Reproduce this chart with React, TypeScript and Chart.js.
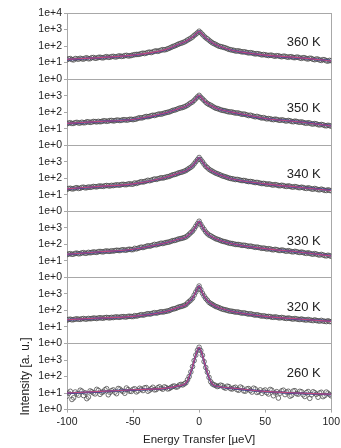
import { useEffect, useRef } from 'react';
import { Chart, registerables } from 'chart.js';

Chart.register(...registerables);

const FONT = "'Liberation Sans', Arial, sans-serif";

// Energy transfer grids (µeV) of the measured points (two interleaved sets)
const energies = [-100, -97.5, -95, -92.5, -90, -87.5, -85, -82.5, -80, -77.5, -75, -72.5, -70, -67.5, -65, -62.5, -60, -57.5, -55, -52.5, -50, -47.5, -45, -42.5, -40, -37.5, -35, -32.5, -30, -27.5, -25, -22.5, -20, -17.5, -15, -12.5, -10, -7.5, -5, -2.5, 0, 2.5, 5, 7.5, 10, 12.5, 15, 17.5, 20, 22.5, 25, 27.5, 30, 32.5, 35, 37.5, 40, 42.5, 45, 47.5, 50, 52.5, 55, 57.5, 60, 62.5, 65, 67.5, 70, 72.5, 75, 77.5, 80, 82.5, 85, 87.5, 90, 92.5, 95, 97.5, 100];
const energiesB = [-98.75, -96.25, -93.75, -91.25, -88.75, -86.25, -83.75, -81.25, -78.75, -76.25, -73.75, -71.25, -68.75, -66.25, -63.75, -61.25, -58.75, -56.25, -53.75, -51.25, -48.75, -46.25, -43.75, -41.25, -38.75, -36.25, -33.75, -31.25, -28.75, -26.25, -23.75, -21.25, -18.75, -16.25, -13.75, -11.25, -8.75, -6.25, -3.75, -1.25, 1.25, 3.75, 6.25, 8.75, 11.25, 13.75, 16.25, 18.75, 21.25, 23.75, 26.25, 28.75, 31.25, 33.75, 36.25, 38.75, 41.25, 43.75, 46.25, 48.75, 51.25, 53.75, 56.25, 58.75, 61.25, 63.75, 66.25, 68.75, 71.25, 73.75, 76.25, 78.75, 81.25, 83.75, 86.25, 88.75, 91.25, 93.75, 96.25, 98.75];
// Energies of the fitted curves
const fitEnergies = [-100, -75, -50, -25, -15, -10, -7.5, -5, -2.5, 0, 2.5, 5, 7.5, 10, 15, 25, 50, 75, 100];

const int360 = [15, 17.5, 14.5, 16.8, 18.2, 16.1, 19.5, 17.3, 20.4, 18.6, 21.2, 19.4, 22.8, 21.0, 23.9, 22.1, 25.3, 24.0, 27.5, 25.6, 28.9, 31.2, 32.0, 37.1, 37.5, 43.0, 44.1, 51.2, 52.0, 60.5, 62.0, 74, 93, 110, 138, 160, 198, 262, 352, 520, 790, 505, 318, 225, 158, 126, 98, 88, 77, 63, 57, 50.1, 51.0, 44.0, 43.8, 38.2, 38.5, 33.0, 33.9, 29.0, 29.5, 26.5, 27.8, 24.1, 25.9, 22.5, 24.0, 21.0, 22.6, 19.8, 21.0, 18.0, 19.5, 16.4, 17.8, 14.9, 16.0, 13.5, 14.8, 12.2, 13.0];
const int350 = [19.8, 22.9, 21.0, 24.1, 22.0, 22.8, 26.3, 24.0, 27.4, 25.5, 26.2, 30.1, 28.0, 31.2, 29.4, 33.0, 31.0, 34.9, 33.0, 36.8, 35.0, 38.5, 45.9, 46.5, 54.8, 55.6, 65.2, 67.8, 78.1, 81.0, 93.5, 103, 127, 142, 173, 192, 232, 312, 415, 660, 1040, 640, 402, 290, 228, 174, 153, 129, 119, 104, 101, 88.0, 87.1, 74.0, 72.9, 61.8, 60.4, 52.0, 51.5, 44.0, 42.8, 41.2, 36.5, 37.9, 33.1, 34.5, 30.0, 31.6, 27.4, 28.7, 25.1, 25.9, 22.0, 22.8, 19.6, 20.4, 17.5, 18.0, 15.4, 16.1, 14.0];
const int340 = [21.5, 24.8, 23.2, 27.0, 24.9, 28.8, 27.0, 28.1, 32.0, 30.0, 33.9, 32.1, 36.5, 34.0, 35.8, 40.2, 38.0, 43.0, 41.0, 46.1, 44.0, 48.5, 57.2, 58.9, 68.0, 70.5, 82.0, 85.0, 98.2, 102, 118, 130, 160, 178, 216, 244, 292, 400, 560, 1000, 1800, 990, 530, 350, 266, 205, 172, 139, 122, 103, 93, 83, 81.5, 72, 71, 62.5, 61.8, 54.5, 53.6, 47.5, 46.8, 45.5, 40.0, 41.5, 36.0, 37.8, 33.0, 34.5, 29.8, 31.5, 27.5, 28.8, 25.0, 26.4, 22.5, 24.1, 20.5, 22.0, 18.6, 19.9, 17.5];
const int330 = [24.0, 27.3, 25.6, 29.4, 27.5, 31.5, 29.5, 30.8, 34.9, 32.6, 37.2, 35.0, 39.8, 37.5, 39.2, 44.1, 41.9, 47.3, 44.8, 50.6, 48.0, 53.0, 62.8, 64.0, 75.1, 77.0, 90.0, 93.0, 108, 112, 129, 139, 167, 182, 216, 237, 280, 410, 630, 1250, 2500, 1110, 570, 365, 286, 220, 189, 155, 141, 120, 112, 99, 98, 86, 85.5, 75, 74.5, 65.5, 64.8, 57, 56.2, 54.6, 48.1, 49.9, 43.5, 45.6, 39.8, 41.5, 36.0, 37.9, 33.2, 34.4, 29.5, 30.9, 26.2, 27.6, 23.5, 24.7, 20.9, 22.0, 18.9];
const int320 = [26.0, 29.6, 27.9, 31.0, 28.9, 32.5, 30.2, 31.5, 34.8, 32.4, 36.3, 34.0, 37.9, 35.5, 36.9, 40.6, 38.4, 42.5, 40.3, 44.6, 42.5, 45.2, 52.3, 52.0, 59.8, 60.1, 68.9, 69.0, 78.5, 79.8, 89.5, 99, 122, 135, 165, 184, 223, 350, 545, 1300, 3000, 1110, 530, 310, 232, 175, 148, 121, 109, 94, 88.5, 79, 78, 69, 68, 60, 59.2, 52, 51.6, 45.5, 44.9, 43.7, 39.0, 40.5, 36.2, 37.8, 33.6, 35.0, 31.1, 32.6, 29.0, 30.5, 27.0, 28.6, 25.4, 26.9, 23.6, 25.1, 22.2, 23.7, 21.0];
const int260 = [6.5, 12.8, 5.2, 9.0, 14.9, 7.1, 4.6, 13.5, 10.2, 16.8, 8.4, 12.0, 18.5, 10.9, 15.6, 9.2, 17.4, 12.5, 20.2, 13.0, 16.9, 11.8, 19.5, 14.2, 21.6, 15.0, 22.4, 16.3, 24.0, 17.2, 21.5, 19.0, 25.5, 23.0, 30.5, 31.0, 42.0, 100, 400, 2000, 5900, 1950, 355, 89, 36, 29.0, 26.5, 28.0, 19.8, 24.6, 17.6, 22.5, 14.8, 20.3, 13.0, 18.7, 11.5, 17.6, 12.1, 9.6, 15.4, 8.8, 14.9, 10.1, 5.0, 13.6, 8.1, 12.9, 7.3, 14.0, 8.6, 11.9, 6.2, 12.4, 7.8, 10.6, 5.6, 11.2, 7.0, 9.9, 6.8];

const int360B = [16.9, 15.2, 17.6, 16.0, 17.0, 18.5, 17.0, 19.9, 18.2, 20.5, 19.6, 21.6, 20.8, 23.0, 22.0, 24.6, 23.5, 26.4, 25.2, 27.0, 30.2, 31.0, 34.8, 35.0, 41.0, 40.2, 48.5, 47.5, 56.8, 58.5, 68.5, 83, 100, 124, 148, 176, 232, 300, 438, 632, 645, 395, 272, 186, 140, 110, 93, 82, 70, 60, 55, 50.5, 47.2, 45.0, 40.5, 39.8, 35.6, 35.0, 31.5, 30.8, 27.9, 28.0, 25.5, 26.2, 23.6, 24.4, 21.8, 22.5, 20.2, 21.4, 18.8, 19.8, 17.2, 18.4, 15.6, 16.6, 14.2, 15.2, 12.8, 13.6];
const int350B = [22.0, 20.6, 23.2, 21.9, 24.6, 23.1, 25.6, 24.9, 26.9, 27.8, 27.2, 29.7, 28.8, 31.5, 30.3, 32.8, 32.2, 34.6, 33.8, 36.9, 37.2, 43.0, 44.3, 51.6, 52.8, 61.2, 62.5, 73.2, 74.8, 88.0, 98.5, 114, 133, 158, 181, 210, 263, 368, 518, 840, 805, 512, 334, 262, 198, 165, 139, 125, 110, 103, 94, 89, 79.8, 77.5, 67.0, 65.8, 56.2, 55.8, 47.5, 46.9, 39.0, 39.6, 35.0, 36.2, 32.0, 32.8, 29.0, 30.1, 26.2, 27.3, 24.5, 23.9, 21.3, 22.0, 19.0, 19.7, 16.9, 17.3, 14.9, 15.3];
const int340B = [23.9, 22.7, 25.8, 24.1, 27.9, 26.2, 29.6, 29.3, 31.0, 32.9, 32.8, 35.1, 34.9, 37.3, 37.9, 39.0, 41.9, 40.8, 44.9, 43.6, 52.0, 52.6, 62.3, 63.0, 75.5, 76.0, 91.0, 92.8, 108, 110, 124, 146, 168, 198, 229, 268, 346, 462, 750, 1330, 1340, 710, 440, 300, 232, 188, 155, 131, 112, 97, 89, 85.5, 75.5, 73.8, 65.2, 64.0, 57.5, 56.3, 50.0, 49.1, 43.0, 43.8, 38.7, 39.6, 35.0, 35.9, 32.0, 32.8, 29.0, 30.1, 26.8, 27.4, 24.2, 25.0, 21.8, 22.4, 20.0, 20.3, 18.1, 18.6];
const int330B = [26.3, 25.0, 28.5, 26.8, 30.6, 28.7, 32.8, 32.2, 33.5, 36.2, 35.8, 38.5, 38.0, 41.0, 41.8, 42.8, 46.0, 44.5, 49.2, 47.6, 57.5, 57.8, 68.2, 69.0, 82.5, 83.2, 99.5, 101, 118, 121, 134, 154, 172, 201, 225, 258, 334, 512, 870, 1770, 1630, 802, 448, 328, 251, 203, 171, 148, 130, 115, 106, 98, 92.5, 89.2, 80.5, 79.0, 70.5, 69.0, 61.5, 60.2, 52.0, 53.2, 46.5, 47.8, 42.2, 43.5, 38.2, 39.1, 35.0, 35.9, 32.0, 32.1, 28.5, 28.6, 25.3, 25.9, 22.5, 22.9, 20.0, 20.6];
const int320B = [28.6, 27.0, 30.0, 29.3, 31.2, 30.0, 33.0, 32.1, 33.9, 35.1, 34.6, 36.9, 36.2, 38.4, 39.5, 39.0, 41.8, 40.5, 43.8, 42.9, 48.8, 48.2, 55.6, 55.0, 64.1, 63.0, 73.5, 72.9, 84.0, 84.5, 92.5, 111, 126, 150, 173, 203, 286, 428, 842, 1920, 1830, 748, 412, 262, 200, 162, 133, 114, 102, 91.5, 85.0, 81.2, 72.5, 71.8, 63.5, 63.0, 55.2, 55.0, 48.0, 47.6, 42.0, 42.6, 38.6, 39.3, 35.6, 36.0, 32.8, 33.2, 30.1, 30.6, 28.2, 28.0, 26.1, 26.3, 24.2, 24.5, 22.6, 22.8, 21.2, 21.5];
const int260B = [9.8, 4.1, 11.6, 7.5, 13.1, 10.4, 5.8, 12.0, 8.9, 14.6, 11.1, 15.8, 7.9, 13.9, 11.3, 18.9, 14.0, 9.7, 16.3, 12.7, 18.2, 13.6, 17.0, 20.6, 12.9, 18.4, 15.7, 21.0, 19.1, 23.8, 17.8, 22.0, 26.8, 24.0, 33.5, 36.0, 64, 190, 930, 3900, 3750, 800, 185, 49, 31.5, 24.8, 30.2, 21.9, 26.1, 18.6, 20.7, 16.0, 23.2, 13.6, 17.9, 14.3, 19.8, 10.9, 15.6, 13.3, 10.6, 16.6, 6.9, 12.2, 9.8, 15.0, 11.4, 6.5, 13.3, 9.2, 12.8, 7.9, 10.7, 4.8, 12.0, 8.4, 10.1, 6.1, 11.5, 8.0];

const fit360Red = [15.8, 20, 28.2, 63, 135, 195, 262, 355, 520, 790, 500, 316, 225, 158, 100, 56, 28.2, 20, 12.6];
const fit360Blue = [15.2, 19.5, 27.6, 61, 132, 192, 258, 350, 515, 780, 495, 312, 222, 156, 98, 55, 27.6, 19.4, 12.9];
const fit350Red = [20.9, 27.5, 36.3, 91.2, 169, 229, 312, 417, 650, 1045, 646, 398, 295, 224, 151, 100, 41.7, 26.3, 14.5];
const fit350Blue = [20.3, 27.0, 35.6, 89.5, 166, 226, 307, 410, 640, 1030, 636, 392, 290, 221, 149, 98.5, 41.0, 26.0, 14.9];
const fit340Red = [22.9, 32.4, 45.7, 115, 212, 288, 400, 562, 1000, 1820, 1000, 525, 355, 263, 170, 91, 45.7, 28.8, 18.2];
const fit340Blue = [22.3, 31.8, 45.0, 113, 209, 284, 394, 555, 985, 1790, 985, 518, 350, 260, 168, 90, 45.0, 28.4, 18.7];
const fit330Red = [25.1, 35.5, 50.1, 126, 212, 275, 410, 631, 1250, 2512, 1122, 562, 372, 282, 186, 110, 55.0, 34.7, 19.9];
const fit330Blue = [24.5, 34.8, 49.2, 124, 209, 271, 404, 620, 1230, 2470, 1105, 553, 367, 278, 183, 108, 54.0, 34.1, 20.5];
const fit320Red = [27.5, 34.7, 43.7, 87.1, 162, 219, 350, 550, 1300, 3020, 1122, 525, 316, 229, 145, 87.1, 43.7, 30.2, 21.9];
const fit320Blue = [26.9, 34.1, 43.0, 85.8, 160, 216, 345, 541, 1280, 2970, 1105, 517, 312, 226, 143, 86, 43.0, 29.8, 22.4];
const fit260Red = [10, 12.6, 15.8, 20, 28.2, 39.8, 100, 400, 2000, 5900, 1950, 355, 89, 36, 25.1, 20, 12.6, 10, 8.5];
const fit260Blue = [9.6, 12.2, 15.4, 19.6, 27.5, 38.5, 97, 390, 1960, 5800, 1910, 345, 87, 35, 24.6, 19.5, 12.3, 9.8, 8.3];

// bottom → top
const panelLabels = ['260 K', '320 K', '330 K', '340 K', '350 K', '360 K'];
const yTickValues = [1, 10, 100, 1000, 10000];
const xTickStep = 50;

const RED = '#bf4a7c';
const BLUE = '#3f4496';
const AXIS = '#a8a8a8';
const TEXT = '#222222';

export default function App() {
  const ref = useRef<HTMLCanvasElement>(null);

  useEffect(() => {
    if (!ref.current) return;
    // Chart.js places later left-stacked axes on top
    const panels = [
      { id: 'y260', label: panelLabels[0], a: int260, b: int260B, red: fit260Red, blue: fit260Blue },
      { id: 'y320', label: panelLabels[1], a: int320, b: int320B, red: fit320Red, blue: fit320Blue },
      { id: 'y330', label: panelLabels[2], a: int330, b: int330B, red: fit330Red, blue: fit330Blue },
      { id: 'y340', label: panelLabels[3], a: int340, b: int340B, red: fit340Red, blue: fit340Blue },
      { id: 'y350', label: panelLabels[4], a: int350, b: int350B, red: fit350Red, blue: fit350Blue },
      { id: 'y360', label: panelLabels[5], a: int360, b: int360B, red: fit360Red, blue: fit360Blue },
    ];

    const datasets: any[] = [];
    panels.forEach((p) => {
      datasets.push({
        type: 'line',
        data: fitEnergies.map((x, i) => ({ x, y: p.red[i] })),
        yAxisID: p.id,
        borderColor: RED,
        borderWidth: 1.1,
        pointRadius: 0,
        cubicInterpolationMode: 'monotone',
        fill: false,
        order: 0,
      });
      datasets.push({
        type: 'line',
        data: fitEnergies.map((x, i) => ({ x, y: p.blue[i] })),
        yAxisID: p.id,
        borderColor: BLUE,
        borderWidth: 2,
        pointRadius: 0,
        cubicInterpolationMode: 'monotone',
        fill: false,
        order: 1,
      });
      datasets.push({
        type: 'scatter',
        data: energies.map((x, i) => ({ x, y: p.a[i] })).concat(energiesB.map((x, i) => ({ x, y: p.b[i] }))),
        yAxisID: p.id,
        pointRadius: 2.3,
        pointBorderWidth: 0.8,
        borderColor: 'rgba(60,60,60,0.9)',
        backgroundColor: 'rgba(255,255,255,0.2)',
        order: 2,
      });
    });

    const scales: any = {
      x: {
        type: 'linear',
        min: -100,
        max: 100,
        ticks: { stepSize: xTickStep, color: TEXT, font: { size: 10.5, family: FONT }, padding: 3, maxRotation: 0 },
        grid: {
          drawOnChartArea: true,
          color: (c: any) => (c.tick && c.tick.value === 100 ? AXIS : 'rgba(0,0,0,0)'),
          tickColor: AXIS,
          tickLength: 3,
        },
        border: { color: AXIS },
        title: { display: true, text: 'Energy Transfer [µeV]', color: TEXT, font: { size: 11.5, family: FONT }, padding: { top: 2, bottom: 1 } },
      },
    };
    panels.forEach((p, idx) => {
      const isTop = idx === panels.length - 1;
      scales[p.id] = {
        type: 'logarithmic',
        position: 'left',
        stack: 'panels',
        stackWeight: 1,
        min: 1,
        max: 10000,
        afterBuildTicks: (s: any) => {
          s.ticks = yTickValues.map((v) => ({ value: v }));
        },
        afterFit: (s: any) => {
          s.width = 67;
        },
        ticks: {
          autoSkip: false,
          color: TEXT,
          font: { size: 10.5, family: FONT },
          padding: 2,
          callback: (v: any) => (!isTop && v === 10000 ? '' : '1e+' + Math.round(Math.log10(v))),
        },
        grid: {
          drawOnChartArea: true,
          color: (c: any) => (c.tick && (c.tick.value === 1 || c.tick.value === 10000) ? AXIS : 'rgba(0,0,0,0)'),
          tickColor: AXIS,
          tickLength: 3,
        },
        border: { color: AXIS },
        title: idx === 0
          ? { display: true, text: 'Intensity [a. u.]', color: TEXT, font: { size: 12, family: FONT }, padding: { top: 18, bottom: 0 } }
          : { display: false },
      };
    });

    const labelPlugin = {
      id: 'panelLabels',
      afterDatasetsDraw(chart: any) {
        const ctx = chart.ctx;
        ctx.save();
        ctx.font = `13px ${FONT}`;
        ctx.fillStyle = TEXT;
        ctx.textAlign = 'right';
        ctx.textBaseline = 'middle';
        panels.forEach((p) => {
          const ys = chart.scales[p.id];
          ctx.fillText(p.label, chart.scales.x.getPixelForValue(92), ys.getPixelForValue(160));
        });
        ctx.restore();
      },
    };

    const chart = new Chart(ref.current, {
      type: 'scatter',
      data: { datasets },
      options: {
        responsive: false,
        animation: false,
        devicePixelRatio: 1,
        layout: { padding: { left: 0, top: 13, right: 0, bottom: 0 } },
        plugins: { legend: { display: false }, tooltip: { enabled: false } },
        scales,
      },
      plugins: [labelPlugin],
    } as any);
    return () => chart.destroy();
  }, []);

  return (
    <div style={{ position: 'absolute', left: 0, top: 0, width: 341, height: 448, overflow: 'hidden', background: '#fff' }}>
      <canvas ref={ref} width={343} height={448} style={{ display: 'block' }} />
    </div>
  );
}
